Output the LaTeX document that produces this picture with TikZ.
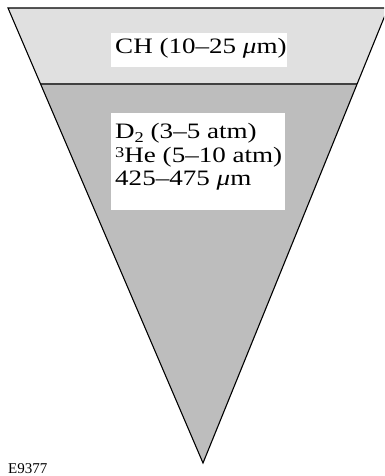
\documentclass[tikz,border=0pt]{standalone}
\usepackage{fontspec}
\setmainfont[FakeStretch=1.23]{Liberation Serif}
\newfontfamily\plainserif{Liberation Serif}
\newcommand{\umu}{{\itshape μ}}
\newcommand{\supthree}{{\fontsize{15}{15}\selectfont\raisebox{4.5pt}{3}}}
\newcommand{\subtwo}{{\fontsize{15}{15}\selectfont\raisebox{-3.5pt}{2}}}
\definecolor{shellgray}{HTML}{E0E0E0}
\definecolor{fuelgray}{HTML}{BDBDBD}
\definecolor{divgray}{HTML}{404040}
\begin{document}
\begin{tikzpicture}[x=1pt,y=1pt,
  labeltext/.style={anchor=base west,inner sep=0pt,font=\fontsize{22}{23.2}\selectfont},
  tagtext/.style={anchor=base west,inner sep=0pt,font=\plainserif\fontsize{15}{16}\selectfont}]
\useasboundingbox (0,0) rectangle (384,476);
\clip (0,0) rectangle (384,476);
% corners
\coordinate (tl) at (8,468);
\coordinate (tr) at (388,468);
\coordinate (ap) at (203,13);
\coordinate (dl) at (40.5,392);
\coordinate (dr) at (357,392);
% fills
\fill[shellgray] (tl) -- (tr) -- (dr) -- (dl) -- cycle;
\fill[fuelgray] (dl) -- (dr) -- (ap) -- cycle;
\draw[divgray,line width=1.4pt] (dl) -- (dr);
\draw[black,line width=1.1pt,line join=miter] (tl) -- (tr) -- (ap) -- cycle;
% white boxes
\fill[white] (111,409) rectangle (287,443);
\fill[white] (110.7,266) rectangle (285,363);
% texts
\node[labeltext] (ch) at (115,422) {CH (10–25 \umu m)};
\node[labeltext] (fuel) at (115,337) {\begin{tabular}[t]{@{}l@{}}D\subtwo{} (3–5 atm)\\ \supthree He (5–10 atm)\\ 425–475 \umu m\end{tabular}};
\node[tagtext] (tag) at (8,2) {E9377};
\end{tikzpicture}
\end{document}
